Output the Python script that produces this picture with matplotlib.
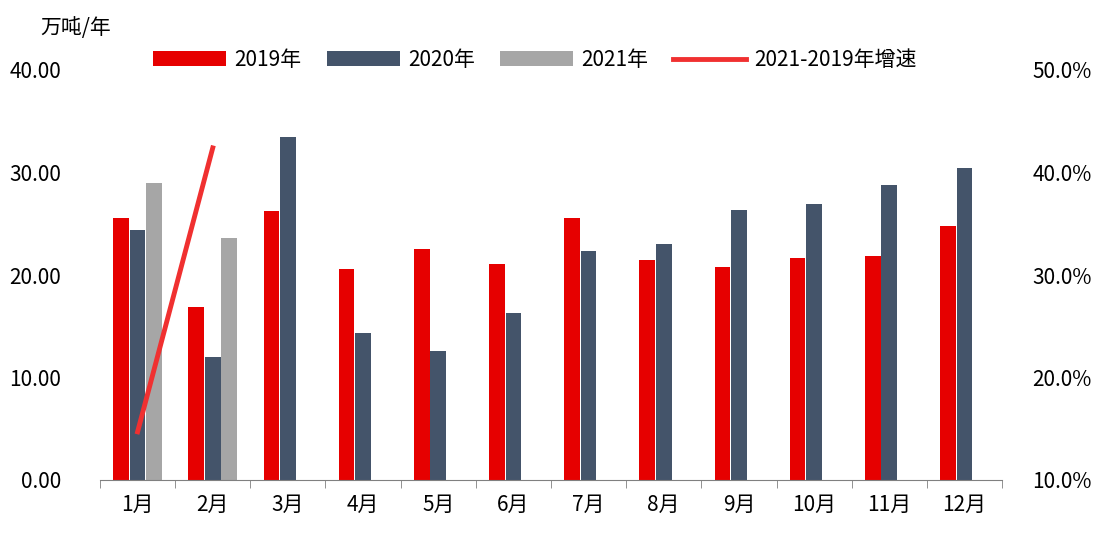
import matplotlib.pyplot as plt
from matplotlib import font_manager
import numpy as np

cjk = [f.name for f in font_manager.fontManager.ttflist if 'CJK' in f.name and 'Sans' in f.name]
plt.rcParams['font.family'] = ['Noto Sans CJK SC'] + cjk + ['DejaVu Sans']

months = ['1月', '2月', '3月', '4月', '5月', '6月', '7月', '8月', '9月', '10月', '11月', '12月']
y2019 = [25.6, 16.9, 26.2, 20.6, 22.5, 21.1, 25.6, 21.5, 20.8, 21.7, 21.9, 24.8]
y2020 = [24.4, 12.0, 33.5, 14.3, 12.6, 16.3, 22.3, 23.0, 26.3, 26.9, 28.8, 30.4]
y2021 = [29.0, 23.6]
growth = [14.7, 42.4]

fig = plt.figure(figsize=(10.98, 5.58), dpi=100)
ax = fig.add_axes([100/1098, 1-480/558, 902/1098, 410/558])
x = np.arange(len(months))
w = 0.22
ax.bar(x - w, y2019, w * 0.95, color='#e60000', label='2019年')
ax.bar(x, y2020, w * 0.95, color='#44546a', label='2020年')
ax.bar(x[:2] + w, y2021, w * 0.95, color='#a6a6a6', label='2021年')
ax.set_ylim(0, 40)
ax.set_xlim(-0.5, 11.5)
ax.set_yticks(np.arange(0, 41, 10))
ax.set_yticklabels([f'{v:.2f}' for v in np.arange(0, 41, 10)], fontsize=15)
ax.set_xticks(x)
ax.set_xticklabels(months, fontsize=15)
for s in ['top', 'right', 'left']:
    ax.spines[s].set_visible(False)
ax.spines['bottom'].set_color('#808080')
ax.tick_params(axis='y', length=0, pad=28)
ax.tick_params(axis='x', length=0, pad=10)
ax.set_xticks(np.arange(-0.5, 12, 1), minor=True)
ax.tick_params(axis='x', which='minor', length=6, color='#808080')

ax2 = ax.twinx()
ax2.plot(x[:2], growth, color='#f03030', lw=3.5, label='2021-2019年增速')
ax2.set_ylim(10, 50)
ax2.set_yticks(np.arange(10, 51, 10))
ax2.set_yticklabels([f'{v:.1f}%' for v in np.arange(10, 51, 10)], fontsize=15)
ax2.tick_params(axis='y', length=0, pad=22)
for s in ['top', 'right', 'left', 'bottom']:
    ax2.spines[s].set_visible(False)

fig.text(40/1098, 1-28/558, '万吨/年', fontsize=15, va='center')
h1, l1 = ax.get_legend_handles_labels()
h2, l2 = ax2.get_legend_handles_labels()
fig.legend(h1 + h2, l1 + l2, loc='center', bbox_to_anchor=(535/1098, 1-60/558), ncol=4,
           frameon=False, fontsize=15, handlelength=3.5, columnspacing=1.2, handletextpad=0.4)
fig.savefig('out.png', dpi=100)
